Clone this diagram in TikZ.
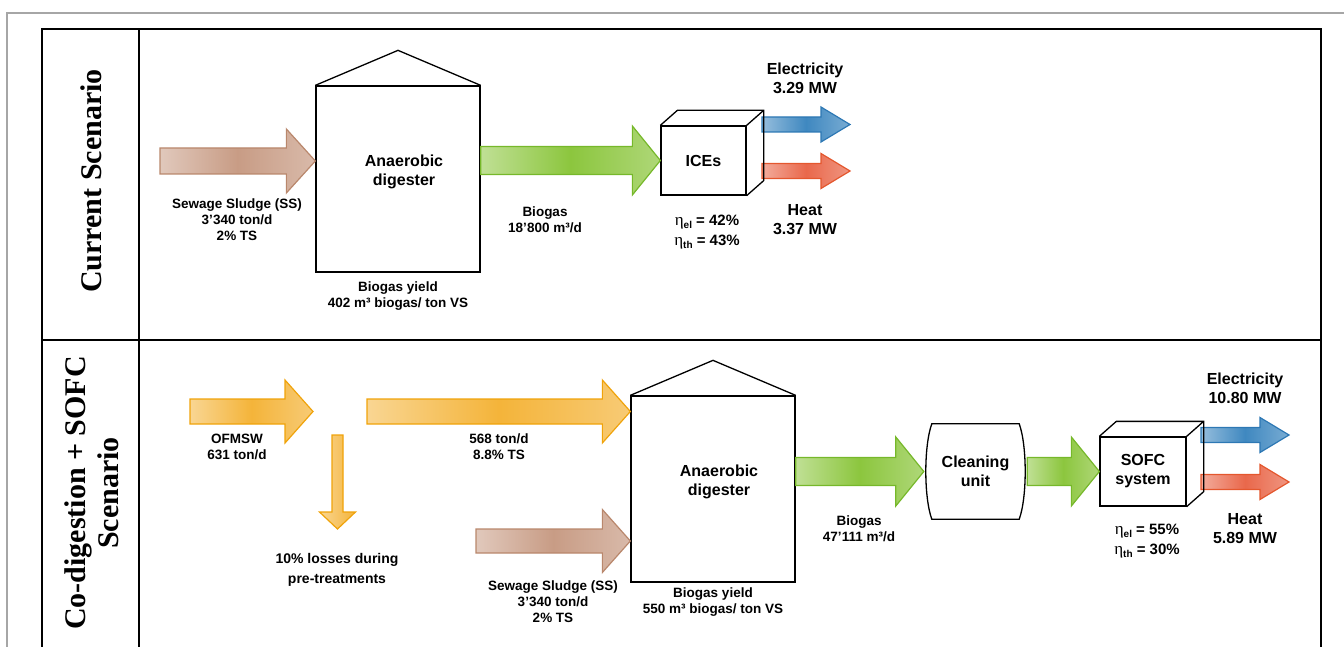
\documentclass[tikz,border=0pt]{standalone}
\usepackage{fontspec}
\setmainfont{Liberation Sans}
\newfontfamily\titlefont{Liberation Serif}
\usetikzlibrary{calc}

\definecolor{ssF}{HTML}{C89C85}
\definecolor{ssD}{HTML}{B9876C}
\definecolor{gasF}{HTML}{8CC63E}
\definecolor{gasD}{HTML}{76B82A}
\definecolor{orgF}{HTML}{F4B43A}
\definecolor{orgD}{HTML}{F0A30A}
\definecolor{elF}{HTML}{3F88C0}
\definecolor{elD}{HTML}{2D78B4}
\definecolor{thF}{HTML}{E9684B}
\definecolor{thD}{HTML}{E4572E}

% fat flow arrow: style, tail, tip, shaft half, head half, head length
\newcommand{\fatarrow}[6]{%
  \path[#1] let \p1=(#2), \p2=(#3) in
    (\x1,\y1+#4) -- (\x2-#6,\y1+#4) -- (\x2-#6,\y1+#5) -- (\x2,\y1)
    -- (\x2-#6,\y1-#5) -- (\x2-#6,\y1-#4) -- (\x1,\y1-#4) -- cycle;}
\newcommand{\etasub}[1]{{\mdseries\titlefont\fontsize{17}{20}\selectfont η}\raisebox{-0.35ex}{\fontsize{10}{10}\selectfont #1}}

\begin{document}
\begin{tikzpicture}[x=1pt, y=-1pt,
  frame/.style={line width=1.6pt},
  lbl/.style={font=\fontsize{13.5}{16}\selectfont\bfseries, align=center},
  big/.style={font=\fontsize{16}{19}\selectfont\bfseries, align=center},
  eff/.style={font=\fontsize{15}{20}\selectfont\bfseries, align=center},
  tank/.style={draw, line width=1.3pt, minimum width=164pt, minimum height=186pt},
  cube/.style={draw, line width=1.3pt, minimum height=69pt, big},
  arr/.style={draw=#1D, line width=1.2pt, left color=#1F!55!white,
    right color=#1F!70!white, middle color=#1F}]
\useasboundingbox (0,0) rectangle (1344,647);

% table
\draw[gray!70, line width=1.2pt] (7,647) -- (7,13) -- (1344,13);
\draw[frame] (42,647) -- (42,29) -- (1321,29);
\draw[line width=2.4pt] (1321,28.2) -- (1321,647);
\draw[frame] (139,29) -- (139,647);
\draw[frame] (42,340) -- (1321,340);

\node[rotate=90, font=\fontsize{30}{33}\selectfont\titlefont\bfseries] (cur) at (91,181) {Current Scenario};
\node[rotate=90, align=center, font=\fontsize{30}{33}\selectfont\titlefont\bfseries] (cod) at (92,493) {Co-digestion + SOFC\\Scenario};

% current scenario
\node[tank] (dig1) at (398,179) {};
\node[big] (dig1txt) at (404,172) {Anaerobic\\digester};
\node[cube, minimum width=85pt] (ice) at (703.5,160.5) {ICEs};
\coordinate (ss1) at (160,161);
\coordinate (el1) at (762,124.5);
\coordinate (el1tip) at (850,124.5);
\coordinate (th1) at (762,171);
\coordinate (th1tip) at (850,171);

\fatarrow{arr=ss}{ss1}{dig1.west}{13pt}{32pt}{29pt}
\fatarrow{arr=gas}{dig1.east |- ice.west}{ice.west}{14pt}{34.5pt}{28pt}
\fatarrow{arr=el}{el1}{el1tip}{7.5pt}{17.5pt}{29pt}
\fatarrow{arr=th}{th1}{th1tip}{7.5pt}{17.5pt}{29pt}

\node[lbl] (ss1lab) at (237,220) {Sewage Sludge (SS)\\3'340 ton/d\\2\% TS};
\node[lbl] (yield1) at (398,296.5) {Biogas yield\\402 m³ biogas/ ton VS};
\node[lbl] (gas1) at (545,220) {Biogas\\18'800 m³/d};
\node[eff] (eff1) at (707,232) {\etasub{el} = 42\%\\\etasub{th} = 43\%};
\node[big] (el1lab) at (805,78.5) {Electricity\\3.29 MW};
\node[big] (th1lab) at (805,220) {Heat\\3.37 MW};

% co-digestion + SOFC scenario
\node[tank] (dig2) at (713,489) {};
\node[big] (dig2txt) at (719,482) {Anaerobic\\digester};
\node[big, minimum width=103pt, minimum height=95pt] (clean) at (975.5,471.5) {Cleaning\\unit};
\node[cube, minimum width=86pt] (sofc) at (1143,471.5) {SOFC\\system};
\coordinate (ofm) at (190,411.5);
\coordinate (split) at (313,411.5);
\coordinate (mix) at (367,411.5);
\coordinate (losstop) at (337.5,435);
\coordinate (losstip) at (337.5,529);
\coordinate (ss2) at (476,541);
\coordinate (el2) at (1201,435);
\coordinate (el2tip) at (1289,435);
\coordinate (th2) at (1201,482);
\coordinate (th2tip) at (1289,482);

\fatarrow{arr=org}{ofm}{split}{12.5pt}{31.5pt}{28pt}
\fatarrow{arr=org}{mix}{dig2.west}{12.5pt}{31.5pt}{28pt}
\path[draw=orgD, line width=1.2pt, left color=orgF!55!white, right color=orgF]
  let \p1=(losstop), \p2=(losstip) in
  (\x1-5.5pt,\y1) -- (\x1-5.5pt,\y2+17pt) -- (\x1-18pt,\y2+17pt) -- (\x1,\y2)
  -- (\x1+18pt,\y2+17pt) -- (\x1+5.5pt,\y2+17pt) -- (\x1+5.5pt,\y1) -- cycle;
\fatarrow{arr=ss}{ss2}{dig2.west}{12pt}{31.5pt}{28pt}
\fatarrow{arr=gas}{dig2.east |- clean.west}{clean.west}{14pt}{34.5pt}{28pt}
\fatarrow{arr=gas}{clean.east}{sofc.west}{14pt}{34.5pt}{28pt}
\fatarrow{arr=el}{el2}{el2tip}{7.5pt}{17.5pt}{29pt}
\fatarrow{arr=th}{th2}{th2tip}{7.5pt}{17.5pt}{29pt}

\draw[line width=1.3pt] ([xshift=8pt]clean.north west) -- ([xshift=-8pt]clean.north east)
  .. controls ([yshift=-22pt]clean.north east) and ([yshift=22pt]clean.south east) .. ([xshift=-8pt]clean.south east)
  -- ([xshift=8pt]clean.south west)
  .. controls ([yshift=22pt]clean.south west) and ([yshift=-22pt]clean.north west) .. cycle;

\node[lbl] (ofmlab) at (237,447) {OFMSW\\631 ton/d};
\node[font=\fontsize{14}{20}\selectfont\bfseries, align=center] (losslab) at (337,570) {10\% losses during\\pre-treatments};
\node[lbl] (mixlab) at (499,447) {568 ton/d\\8.8\% TS};
\node[lbl] (ss2lab) at (553,602) {Sewage Sludge (SS)\\3'340 ton/d\\2\% TS};
\node[lbl] (yield2) at (713,602) {Biogas yield\\550 m³ biogas/ ton VS};
\node[lbl] (gas2) at (859,529) {Biogas\\47'111 m³/d};
\node[eff] (eff2) at (1147,541) {\etasub{el} = 55\%\\\etasub{th} = 30\%};
\node[big] (el2lab) at (1245,388.5) {Electricity\\10.80 MW};
\node[big] (th2lab) at (1245,529) {Heat\\5.89 MW};

% roofs and cube faces
\foreach \d in {dig1,dig2}
  \draw[line width=1.3pt] (\d.north west) -- ([yshift=35pt]\d.north) -- (\d.north east);
\foreach \c in {ice,sofc}
  \draw[line width=1.3pt] (\c.north west) -- ++(17,-15) -- ([shift={(17,-15)}]\c.north east)
    -- ([shift={(17,-15)}]\c.south east) -- (\c.south east)
    (\c.north east) -- ++(17,-15);
\end{tikzpicture}
\end{document}
